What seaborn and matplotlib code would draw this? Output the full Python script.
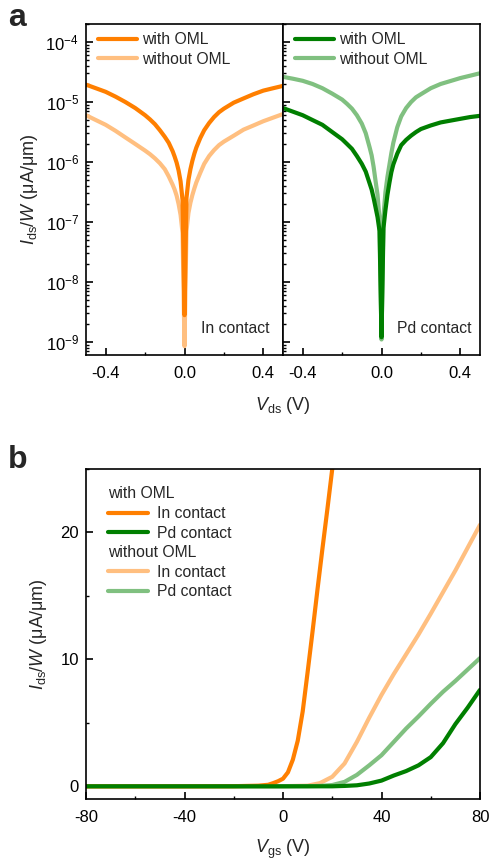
import matplotlib
matplotlib.use("Agg")
import matplotlib.pyplot as plt
import seaborn as sns
from matplotlib.ticker import MultipleLocator, LogLocator, NullFormatter, FormatStrFormatter

# ---- output characteristics: Ids/W (uA/um) versus Vds (V) ----
vds = [-0.5, -0.45, -0.4, -0.35, -0.3, -0.25, -0.2, -0.175, -0.15, -0.125, -0.1,
       -0.08, -0.06, -0.05, -0.04, -0.03, -0.02, -0.01, 0.0,
       0.01, 0.02, 0.03, 0.04, 0.05, 0.06, 0.08, 0.1, 0.125, 0.15, 0.175, 0.2,
       0.25, 0.3, 0.35, 0.4, 0.45, 0.5]
in_with_out = [1.95e-5, 1.70e-5, 1.48e-5, 1.23e-5, 1.0e-5, 7.94e-6, 6.03e-6, 5.13e-6,
               4.27e-6, 3.39e-6, 2.63e-6, 2.09e-6, 1.51e-6, 1.23e-6, 9.77e-7, 7.24e-7,
               4.79e-7, 2.34e-7, 2.8e-9,
               2.51e-7, 5.01e-7, 7.59e-7, 1.05e-6, 1.38e-6, 1.74e-6, 2.51e-6, 3.39e-6,
               4.47e-6, 5.62e-6, 6.76e-6, 7.76e-6, 9.77e-6, 1.15e-5, 1.35e-5, 1.55e-5,
               1.70e-5, 1.86e-5]
in_without_out = [6.03e-6, 5.01e-6, 4.17e-6, 3.31e-6, 2.57e-6, 2.0e-6, 1.55e-6, 1.35e-6,
                  1.15e-6, 9.55e-7, 7.59e-7, 5.75e-7, 4.17e-7, 3.47e-7, 2.75e-7, 2.0e-7,
                  1.32e-7, 6.6e-8, 8.5e-10,
                  7.08e-8, 1.41e-7, 2.09e-7, 2.82e-7, 3.63e-7, 4.57e-7, 6.61e-7, 9.33e-7,
                  1.26e-6, 1.58e-6, 1.91e-6, 2.19e-6, 2.75e-6, 3.47e-6, 4.07e-6, 4.79e-6,
                  5.50e-6, 6.31e-6]
pd_with_out = [7.94e-6, 6.92e-6, 6.03e-6, 5.01e-6, 4.17e-6, 3.16e-6, 2.40e-6, 2.0e-6,
               1.66e-6, 1.26e-6, 9.33e-7, 6.92e-7, 4.37e-7, 3.47e-7, 2.51e-7, 1.74e-7,
               1.20e-7, 7.08e-8, 1.2e-9,
               7.94e-8, 1.58e-7, 2.82e-7, 4.47e-7, 6.76e-7, 9.12e-7, 1.38e-6, 1.91e-6,
               2.34e-6, 2.75e-6, 3.16e-6, 3.55e-6, 4.07e-6, 4.57e-6, 4.90e-6, 5.25e-6,
               5.62e-6, 5.89e-6]
pd_without_out = [2.63e-5, 2.45e-5, 2.26e-5, 2.0e-5, 1.70e-5, 1.38e-5, 1.10e-5, 9.33e-6,
                  7.76e-6, 6.03e-6, 4.37e-6, 3.02e-6, 1.74e-6, 1.29e-6, 8.3e-7, 4.79e-7,
                  2.82e-7, 1.12e-7, 1.1e-9,
                  1.26e-7, 3.16e-7, 5.62e-7, 8.91e-7, 1.41e-6, 2.09e-6, 3.80e-6, 5.75e-6,
                  7.94e-6, 1.0e-5, 1.20e-5, 1.35e-5, 1.70e-5, 2.0e-5, 2.24e-5, 2.51e-5,
                  2.75e-5, 3.02e-5]

# ---- transfer characteristics: Ids/W (uA/um) versus Vgs (V) ----
vgs_in_with = [-80, -60, -40, -20, -10, -6, -4, -2, 0, 2, 4, 6, 8, 10, 12, 14,
               16, 18, 20, 22]
in_with_tr = [0.0, 0.0, 0.0, 0.01, 0.05, 0.12, 0.25, 0.4, 0.6, 1.1, 2.1, 3.6,
              5.9, 9.0, 12.2, 15.5, 18.7, 21.8, 25.0, 28.2]
vgs = [-80, -60, -40, -20, 0, 10, 15, 20, 25, 30, 35, 40, 45, 50, 55, 60, 65,
       70, 75, 80]
in_without_tr = [0.0, 0.0, 0.0, 0.0, 0.01, 0.05, 0.25, 0.75, 1.8, 3.5, 5.4, 7.2,
                 8.85, 10.4, 11.95, 13.6, 15.3, 17.0, 18.8, 20.6]
pd_without_tr = [0.0, 0.0, 0.0, 0.0, 0.0, 0.01, 0.03, 0.1, 0.35, 0.9, 1.65, 2.45,
                 3.5, 4.55, 5.5, 6.5, 7.45, 8.3, 9.2, 10.1]
pd_with_tr = [0.0, 0.0, 0.0, 0.0, 0.0, 0.0, 0.0, 0.0, 0.03, 0.08, 0.22, 0.45,
              0.85, 1.2, 1.65, 2.3, 3.4, 4.9, 6.2, 7.6]

legend_a = ["with OML", "without OML"]
contacts = ["In contact", "Pd contact"]

ORANGE, ORANGE_LT = "#FF7F00", "#FFBF80"
GREEN, GREEN_LT = "#007F00", "#80C080"

sns.set_theme(style="ticks")
plt.rcParams.update({
    "font.family": ["Liberation Sans", "DejaVu Sans"],
    "mathtext.fontset": "custom",
    "mathtext.rm": "Liberation Sans",
    "mathtext.it": "Liberation Sans:italic",
    "mathtext.bf": "Liberation Sans:bold",
    "axes.unicode_minus": False,
    "axes.linewidth": 1.2,
    "axes.edgecolor": "black",
    "xtick.color": "black",
    "ytick.color": "black",
    "xtick.direction": "in",
    "ytick.direction": "in",
    "xtick.major.size": 5,
    "ytick.major.size": 5,
    "xtick.minor.size": 2.5,
    "ytick.minor.size": 2.5,
    "xtick.major.width": 1.2,
    "ytick.major.width": 1.2,
    "xtick.minor.width": 1.0,
    "ytick.minor.width": 1.0,
    "xtick.major.pad": 8,
    "ytick.major.pad": 5,
    "xtick.labelsize": 12,
    "ytick.labelsize": 12,
})

W, H = 492, 863
fig = plt.figure(figsize=(W / 100, H / 100), dpi=100)


def frac(left, top, right, bottom):
    return [left / W, 1 - bottom / H, (right - left) / W, (bottom - top) / H]


ax_l = fig.add_axes(frac(86, 24, 283, 355))
ax_r = fig.add_axes(frac(283, 24, 480, 355), sharey=ax_l)
ax_b = fig.add_axes(frac(86, 469, 480, 799))

LW = 3.0
FS_LEG = 11.3

# panel a, In contact
sns.lineplot(x=vds, y=in_without_out, ax=ax_l, color=ORANGE_LT, lw=LW, label=legend_a[1])
sns.lineplot(x=vds, y=in_with_out, ax=ax_l, color=ORANGE, lw=LW, label=legend_a[0])
# panel a, Pd contact
sns.lineplot(x=vds, y=pd_without_out, ax=ax_r, color=GREEN_LT, lw=LW, label=legend_a[1])
sns.lineplot(x=vds, y=pd_with_out, ax=ax_r, color=GREEN, lw=LW, label=legend_a[0])

for ax, txt, xr in [(ax_l, contacts[0], 0.934), (ax_r, contacts[1], 0.959)]:
    ax.set_yscale("log")
    ax.set_xlim(-0.5, 0.5)
    ax.set_ylim(6.07e-10, 2.0e-4)
    ax.xaxis.set_major_locator(MultipleLocator(0.4))
    ax.xaxis.set_minor_locator(MultipleLocator(0.2))
    ax.xaxis.set_major_formatter(FormatStrFormatter("%.1f"))
    ax.yaxis.set_major_locator(LogLocator(base=10, numticks=20))
    ax.yaxis.set_minor_locator(LogLocator(base=10, subs=range(2, 10), numticks=20))
    ax.yaxis.set_minor_formatter(NullFormatter())
    ax.tick_params(which="both", top=False, right=False)
    ax.set_xlabel("")
    ax.set_ylabel("")
    h, lab = ax.get_legend_handles_labels()
    ax.legend([h[1], h[0]], [lab[1], lab[0]], loc="upper left",
              bbox_to_anchor=(0.06, 0.975), frameon=False, fontsize=FS_LEG,
              handlelength=2.5, handletextpad=0.3, labelspacing=0.3,
              borderpad=0, borderaxespad=0)
    ax.text(xr, 0.079, txt, transform=ax.transAxes, ha="right", va="center",
            fontsize=FS_LEG)

plt.setp(ax_r.get_yticklabels(), visible=False)
ax_l.set_ylabel(r"$I_{\mathrm{ds}}$/$W$ (μA/μm)", fontsize=13, labelpad=4)
fig.text(283 / W, 1 - 405 / H, r"$V_{\mathrm{ds}}$ (V)", ha="center", va="center",
         fontsize=13)

# panel b, transfer curves
sns.lineplot(x=vgs, y=in_without_tr, ax=ax_b, color=ORANGE_LT, lw=LW)
sns.lineplot(x=vgs, y=pd_without_tr, ax=ax_b, color=GREEN_LT, lw=LW)
sns.lineplot(x=vgs_in_with, y=in_with_tr, ax=ax_b, color=ORANGE, lw=LW)
sns.lineplot(x=vgs, y=pd_with_tr, ax=ax_b, color=GREEN, lw=LW)
lines = ax_b.get_lines()
ax_b.set_xlim(-80, 80)
ax_b.set_ylim(-1, 25)
ax_b.xaxis.set_major_locator(MultipleLocator(40))
ax_b.xaxis.set_minor_locator(MultipleLocator(20))
ax_b.yaxis.set_major_locator(MultipleLocator(10))
ax_b.yaxis.set_minor_locator(MultipleLocator(5))
ax_b.tick_params(which="both", top=False, right=False)
ax_b.set_xlabel(r"$V_{\mathrm{gs}}$ (V)", fontsize=13, labelpad=9)
ax_b.set_ylabel(r"$I_{\mathrm{ds}}$/$W$ (μA/μm)", fontsize=13, labelpad=8)

leg_kw = dict(loc="upper left", frameon=False, fontsize=FS_LEG, title_fontsize=FS_LEG,
              alignment="left", handlelength=2.6, handletextpad=0.55,
              labelspacing=0.3, borderpad=0, borderaxespad=0)
leg1 = ax_b.legend([lines[2], lines[3]], contacts, title="with OML",
                   bbox_to_anchor=(0.055, 0.947), **leg_kw)
ax_b.add_artist(leg1)
ax_b.legend([lines[0], lines[1]], contacts, title="without OML",
            bbox_to_anchor=(0.055, 0.77), **leg_kw)

fig.text(8 / W, 1 - 26 / H, "a", fontsize=23, fontweight="bold", ha="left", va="baseline")
fig.text(8 / W, 1 - 468 / H, "b", fontsize=23, fontweight="bold", ha="left", va="baseline")

fig.savefig("out.png", dpi=100)
